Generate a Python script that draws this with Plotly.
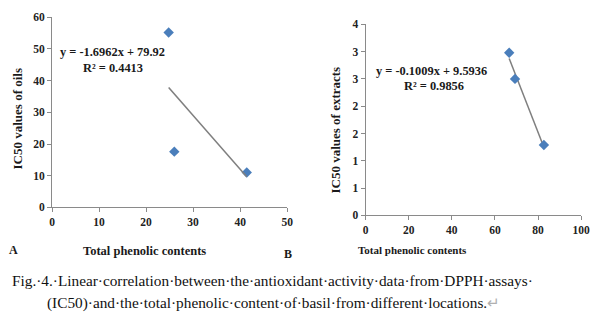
import plotly.graph_objects as go

# Panel A: essential oils
oil_tpc = [24.8, 26.0, 41.4]
oil_ic50 = [55.2, 17.6, 11.0]
oil_fit = (-1.6962, 79.92)
oil_eq = ["y = -1.6962x + 79.92", "R² = 0.4413"]

# Panel B: extracts
ext_tpc = [66.6, 69.3, 82.7]
ext_ic50 = [2.98, 2.50, 1.29]
ext_fit = (-0.1009, 9.5936)
ext_eq = ["y = -0.1009x + 9.5936", "R² = 0.9856"]

ext_yticks = [0, 0.5, 1, 1.5, 2, 2.5, 3, 3.5]
ext_yticktext = ["0", "1", "1", "2", "2", "3", "3", "4"]

caption = [
    "Fig.·4.·Linear·correlation·between·the·antioxidant·activity·data·from·DPPH·assays·",
    "(IC50)·and·the·total·phenolic·content·of·basil·from·different·locations.",
]

W, H = 600, 331
SERIF = "Liberation Serif, Times New Roman, serif"
BLUE = "#4a7ebb"
AXIS = "#8a8a8a"


def px(x):
    return x / W


def py(y):
    return 1 - y / H


def fit_line(xs, coef):
    m, b = coef
    x0, x1 = min(xs), max(xs)
    return [x0, x1], [m * x0 + b, m * x1 + b]


fig = go.Figure()

fig.add_trace(go.Scatter(x=oil_tpc, y=oil_ic50, mode="markers",
                         marker=dict(symbol="diamond", size=8, color=BLUE),
                         xaxis="x", yaxis="y", showlegend=False))
lx, ly = fit_line(oil_tpc, oil_fit)
fig.add_trace(go.Scatter(x=lx, y=ly, mode="lines",
                         line=dict(color="#7f7f7f", width=1.5),
                         xaxis="x", yaxis="y", showlegend=False))

lx, ly = fit_line(ext_tpc, ext_fit)
fig.add_trace(go.Scatter(x=lx, y=ly, mode="lines",
                         line=dict(color="#7f7f7f", width=1.5),
                         xaxis="x2", yaxis="y2", showlegend=False))
fig.add_trace(go.Scatter(x=ext_tpc, y=ext_ic50, mode="markers",
                         marker=dict(symbol="diamond", size=8, color=BLUE),
                         xaxis="x2", yaxis="y2", showlegend=False))

tickfont = dict(family=SERIF, size=11.5, color="#222", weight="bold")
axis_common = dict(showline=True, linecolor=AXIS, linewidth=1, ticks="outside",
                   ticklen=4, tickcolor=AXIS, showgrid=False, zeroline=False,
                   tickfont=tickfont, fixedrange=True)

fig.update_layout(
    width=W, height=H,
    margin=dict(l=0, r=0, t=0, b=0),
    paper_bgcolor="white", plot_bgcolor="white",
    xaxis=dict(domain=[px(50), px(290)], range=[0, 50], dtick=10,
               anchor="y", **axis_common),
    yaxis=dict(domain=[py(209), py(11.7)], range=[0, 60], dtick=10,
               anchor="x", **axis_common),
    xaxis2=dict(domain=[px(370), px(590)], range=[0, 100], dtick=20,
                anchor="y2", **axis_common),
    yaxis2=dict(domain=[py(217.3), py(19)], range=[0, 3.5],
                tickvals=ext_yticks, ticktext=ext_yticktext,
                anchor="x2", **axis_common),
)

bold = dict(family=SERIF, color="#1a1a1a", weight="bold")


def note(text, x, y, size, angle=0, font=None, **kw):
    f = dict(font or bold)
    f["size"] = size
    fig.add_annotation(text=text, x=px(x), y=py(y), xref="paper", yref="paper",
                       showarrow=False, font=f, textangle=angle,
                       xanchor="center", yanchor="middle", **kw)


# regression equations
note(oil_eq[0], 112, 48, 12.4)
note(oil_eq[1], 112, 64, 12.4)
note(ext_eq[0], 437, 67, 12.4)
note(ext_eq[1], 440, 83, 12.4)

# axis titles
note("IC50 values of oils", 15, 117, 13, angle=-90)
note("IC50 values of extracts", 339, 129, 13, angle=-90)
note("Total phenolic contents", 144, 254, 12.5)
note("Total phenolic contents", 418, 253, 11)

# panel letters
note("A", 11, 253, 12)
note("B", 291, 257, 12)

# figure caption
cap_font = dict(family=SERIF, color="#111", weight="normal")
note(caption[0], 275, 285, 15.3, font=cap_font)
note(caption[1] + "<span style='color:#b0b0b0'>↵</span>", 276, 308, 15.3,
     font=cap_font)

fig.write_html("out.html")
